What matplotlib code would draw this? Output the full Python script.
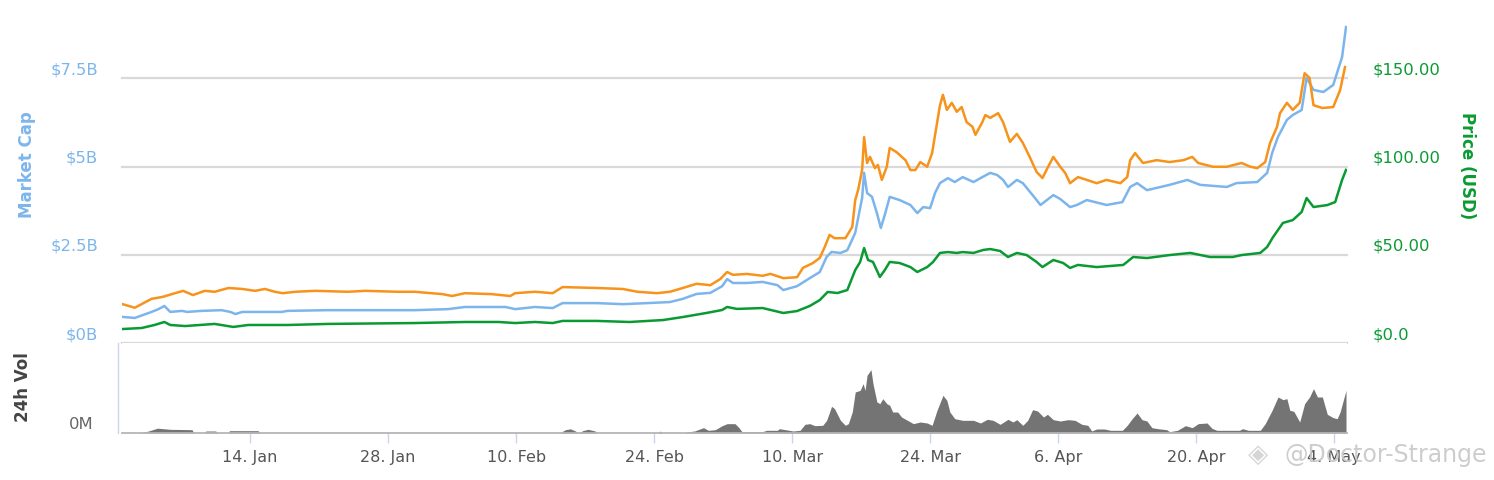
import numpy as np
import pandas as pd
import matplotlib
matplotlib.use("Agg")
import matplotlib.pyplot as plt
from matplotlib.transforms import ScaledTranslation

# ---------------- data ----------------
START = pd.Timestamp("2017-01-01")

green_day = [0, 2, 3.3, 4.3, 4.9, 6.4, 9.4, 11.3, 12.8, 16.8, 20.9, 29.7, 34.8, 38.2, 39.9,
             41.9, 43.7, 44.7, 48.2, 51.5, 54.9, 56.9, 59.3, 60.9, 61.4, 62.4, 65.0, 67.1, 68.5, 69.8,
             70.8, 71.6, 72.6, 73.6, 74.4, 74.9, 75.3, 75.7, 76.2, 76.9, 77.4, 77.9, 78.9, 80.0, 80.7,
             81.7, 82.3, 83.0, 83.8, 84.7, 85.3, 86.4, 87.4, 88.1, 89.1, 89.9, 90.8, 91.8, 92.8, 93.4,
             94.5, 95.5, 96.2, 97.0, 98.9, 101.6, 102.6, 104.0, 106.3, 108.4, 110.4, 112.7, 113.6, 115.5, 116.2,
             116.8, 117.8, 118.8, 119.7, 120.2, 120.9, 122.3, 123.1, 123.8, 124.2]
price_usd = [7.9, 8.5, 10.2, 11.9, 10.2, 9.6, 10.8, 9.1, 10.2, 10.2, 10.8, 11.3, 11.9, 11.9, 11.3,
             11.9, 11.3, 12.5, 12.5, 11.9, 13.0, 14.7, 17.0, 18.7, 20.4, 19.3, 19.8, 17.0, 18.1, 21.0,
             24.3, 28.9, 28.3, 30.0, 41.3, 45.9, 53.8, 47.0, 45.9, 37.4, 41.3, 45.9, 45.3, 43.0, 40.2,
             43.0, 45.9, 51.0, 51.5, 51.0, 51.5, 51.0, 52.7, 53.2, 52.1, 48.7, 51.0, 49.8, 45.9, 43.0,
             47.0, 45.3, 42.5, 44.2, 43.0, 44.2, 48.7, 48.1, 49.8, 51.0, 48.7, 48.7, 49.8, 51.0, 54.4,
             60.0, 68.0, 69.6, 74.2, 82.1, 77.0, 78.1, 79.8, 92.3, 98.0]

blue_day = [0, 1.3, 3.0, 3.7, 4.3, 4.9, 6.1, 6.6, 8.1, 10.1, 11.0, 11.5, 12.2, 14.5, 16.2,
            16.8, 20.9, 29.7, 33.1, 34.8, 38.9, 39.9, 41.9, 43.7, 44.7, 48.2, 50.8, 53.3, 55.6, 56.9,
            58.3, 59.7, 60.9, 61.4, 62.0, 63.4, 65.0, 66.5, 67.1, 68.5, 69.8, 70.8, 71.5, 72.0, 72.9,
            73.6, 74.4, 75.1, 75.3, 75.6, 76.1, 76.6, 77.0, 77.4, 77.9, 78.9, 80.0, 80.7, 81.3, 82.0,
            82.5, 83.0, 83.8, 84.5, 85.3, 86.4, 87.3, 88.1, 88.8, 89.4, 89.9, 90.8, 91.4, 92.4, 93.2,
            94.5, 95.2, 96.2, 96.9, 97.9, 99.9, 101.5, 102.3, 103.0, 104.0, 106.3, 108.1, 109.4, 112.1, 113.1,
            115.2, 116.2, 116.7, 117.3, 118.2, 118.8, 119.7, 120.2, 120.9, 121.9, 122.9, 123.8, 124.2]
market_cap_b = [0.74, 0.71, 0.88, 0.96, 1.05, 0.88, 0.91, 0.88, 0.91, 0.93, 0.88, 0.82, 0.88, 0.88, 0.88,
                0.91, 0.93, 0.93, 0.96, 1.02, 1.02, 0.96, 1.02, 0.99, 1.13, 1.13, 1.10, 1.13, 1.16, 1.25,
                1.39, 1.42, 1.61, 1.81, 1.70, 1.70, 1.73, 1.64, 1.50, 1.61, 1.84, 2.01, 2.44, 2.58, 2.55,
                2.63, 3.12, 4.11, 4.82, 4.25, 4.14, 3.68, 3.26, 3.63, 4.14, 4.05, 3.91, 3.68, 3.85, 3.82,
                4.25, 4.53, 4.67, 4.56, 4.70, 4.56, 4.70, 4.82, 4.76, 4.62, 4.42, 4.62, 4.53, 4.19, 3.91,
                4.19, 4.08, 3.85, 3.91, 4.05, 3.91, 3.99, 4.42, 4.53, 4.33, 4.48, 4.62, 4.48, 4.42, 4.53,
                4.56, 4.82, 5.38, 5.84, 6.32, 6.46, 6.60, 7.51, 7.17, 7.11, 7.31, 8.10, 8.95]

orange_day = [0, 1.3, 3.0, 4.1, 5.4, 6.2, 7.2, 8.4, 9.4, 10.8, 12.2, 13.5, 14.5, 15.5, 16.3,
              17.6, 19.6, 22.9, 24.7, 28.0, 29.7, 32.5, 33.5, 34.8, 37.5, 39.4, 39.9, 41.9, 43.7, 44.7,
              48.2, 50.8, 52.3, 54.3, 55.6, 56.9, 58.3, 59.7, 60.7, 61.4, 62.0, 63.4, 65.0, 65.8, 67.1,
              68.5, 69.1, 70.1, 70.8, 71.3, 71.8, 72.3, 73.4, 74.1, 74.4, 74.7, 75.1, 75.3, 75.6, 75.9,
              76.4, 76.7, 77.1, 77.6, 77.9, 78.6, 79.5, 80.0, 80.5, 81.0, 81.7, 82.2, 82.7, 83.0, 83.3,
              83.7, 84.2, 84.7, 85.2, 85.7, 86.3, 86.6, 87.3, 87.6, 88.1, 88.9, 89.4, 90.1, 90.8, 91.4,
              92.1, 92.8, 93.4, 93.9, 94.5, 95.2, 95.7, 96.2, 97.0, 97.9, 98.9, 99.9, 101.3, 102.0, 102.3,
              102.8, 103.6, 105.0, 106.3, 107.7, 108.6, 109.2, 110.7, 112.1, 113.6, 114.5, 115.2, 116.0, 116.5, 117.2,
              117.5, 118.2, 118.8, 119.5, 120.0, 120.5, 120.9, 121.8, 122.9, 123.6, 124.1]
price_btc = [0.0083, 0.0075, 0.0094, 0.0098, 0.0106, 0.0111, 0.0102, 0.0111, 0.0109, 0.0117, 0.0115, 0.0111, 0.0115, 0.0109, 0.0106,
             0.0109, 0.0111, 0.0109, 0.0111, 0.0109, 0.0109, 0.0104, 0.0100, 0.0106, 0.0104, 0.0100, 0.0106, 0.0109, 0.0106, 0.0119,
             0.0117, 0.0115, 0.0109, 0.0106, 0.0109, 0.0117, 0.0126, 0.0123, 0.0136, 0.0151, 0.0145, 0.0147, 0.0143, 0.0147, 0.0138,
             0.0140, 0.0160, 0.0170, 0.0181, 0.0204, 0.0230, 0.0223, 0.0223, 0.0247, 0.0304, 0.0326, 0.0368, 0.0438, 0.0383, 0.0396,
             0.0372, 0.0379, 0.0347, 0.0375, 0.0415, 0.0406, 0.0389, 0.0368, 0.0368, 0.0385, 0.0375, 0.0404, 0.0468, 0.0506, 0.0528,
             0.0496, 0.0511, 0.0492, 0.0502, 0.0470, 0.0460, 0.0443, 0.0470, 0.0485, 0.0479, 0.0489, 0.0470, 0.0428, 0.0445, 0.0426,
             0.0396, 0.0364, 0.0351, 0.0372, 0.0396, 0.0375, 0.0362, 0.0340, 0.0353, 0.0347, 0.0340, 0.0347, 0.0340, 0.0353, 0.0389,
             0.0404, 0.0383, 0.0389, 0.0385, 0.0389, 0.0396, 0.0383, 0.0375, 0.0375, 0.0383, 0.0375, 0.0372, 0.0385, 0.0426, 0.0460,
             0.0489, 0.0511, 0.0496, 0.0511, 0.0574, 0.0564, 0.0506, 0.0500, 0.0502, 0.0538, 0.0587]

vol_day = [0, 1.8, 2.7, 3.6, 4.9, 7.1, 7.3, 8.4, 8.5, 9.5, 9.7, 10.8, 10.9, 13.8, 14.0,
           44.4, 45.0, 45.5, 46.0, 46.3, 46.8, 47.3, 48.0, 48.2, 54.4, 54.6, 54.8, 57.1, 57.3, 58.1,
           59.0, 59.5, 60.2, 60.9, 61.4, 62.2, 62.6, 62.9, 65.0, 65.4, 66.5, 66.7, 68.1, 68.8, 69.3,
           69.8, 70.3, 71.1, 71.5, 72.0, 72.3, 72.9, 73.4, 73.7, 74.1, 74.4, 74.9, 75.2, 75.4, 75.6,
           76.0, 76.2, 76.6, 76.9, 77.2, 77.6, 77.9, 78.2, 78.7, 79.1, 79.7, 80.3, 81.0, 81.7, 82.2,
           82.7, 83.3, 83.7, 84.0, 84.5, 85.3, 86.4, 87.1, 87.8, 88.4, 89.1, 89.9, 90.4, 90.8, 91.4,
           91.9, 92.4, 92.9, 93.5, 93.9, 94.5, 95.2, 96.0, 96.7, 97.4, 98.0, 98.4, 98.9, 99.7, 100.3,
           101.5, 102.0, 102.5, 103.0, 103.5, 104.0, 104.5, 105.1, 106.0, 106.3, 107.1, 107.9, 108.6, 109.2, 110.1,
           110.6, 111.1, 113.4, 113.7, 114.3, 115.5, 116.0, 116.7, 117.3, 117.8, 118.2, 118.5, 118.9, 119.5, 120.0,
           120.5, 120.9, 121.3, 121.8, 122.3, 122.9, 123.3, 123.6, 124.2]
volume_m = [0, 0, 12, 29, 22, 20, 0, 0, 12, 12, 0, 0, 14, 14, 0,
            0, 20, 25, 12, 0, 15, 22, 12, 0, 0, 12, 0, 0, 6, 12,
            32, 16, 20, 44, 56, 56, 32, 8, 8, 16, 16, 26, 12, 16, 52,
            56, 44, 46, 76, 160, 146, 76, 46, 56, 126, 246, 256, 296, 256, 346,
            380, 296, 186, 176, 206, 176, 166, 126, 126, 96, 76, 56, 66, 60, 46,
            136, 226, 196, 126, 86, 76, 76, 60, 82, 76, 52, 82, 66, 80, 46,
            76, 140, 132, 96, 112, 80, 72, 80, 76, 52, 46, 12, 24, 24, 16,
            16, 46, 86, 120, 80, 72, 32, 26, 20, 8, 16, 44, 32, 56, 60,
            28, 16, 16, 26, 16, 16, 56, 136, 216, 200, 206, 136, 130, 66, 176,
            216, 266, 216, 216, 112, 92, 86, 126, 256]

tick_dates = ["2017-01-14", "2017-01-28", "2017-02-10", "2017-02-24", "2017-03-10",
              "2017-03-24", "2017-04-06", "2017-04-20", "2017-05-04"]
tick_labels = ["14. Jan", "28. Jan", "10. Feb", "24. Feb", "10. Mar",
               "24. Mar", "6. Apr", "20. Apr", "4. May"]
cap_ticks = [0, 2.5, 5, 7.5]
cap_labels = ["$0B", "$2.5B", "$5B", "$7.5B"]
usd_ticks = [0, 50, 100, 150]
usd_labels = ["$0.0", "$50.00", "$100.00", "$150.00"]


def to_dates(days):
    return START + pd.to_timedelta(np.asarray(days, dtype=float), unit="D")


# ---------------- figure ----------------
W, H = 1494, 480
fig = plt.figure(figsize=(W / 100, H / 100), dpi=100)


def box(l, t, r, b):
    return [l / W, 1 - b / H, (r - l) / W, (b - t) / H]


BLUE = "#7cb5ec"
ORANGE = "#f7931a"
GREEN = "#0a9a32"
GRID = "#d9d9d9"

ax = fig.add_axes(box(122, 20, 1347, 343))
axv = fig.add_axes(box(122, 343, 1347, 433), sharex=ax)
ax_r = ax.twinx()
ax_o = ax.twinx()

xmin = START
xmax = START + pd.Timedelta(days=124.3)
ax.set_xlim(xmin, xmax)

ax.set_ylim(0, 323 / 35.3)
ax_r.set_ylim(0, 323 / 1.766)
ax_o.set_ylim(0, 323 / 4700)

for v in cap_ticks:
    ax.axhline(v, color=GRID, lw=1.6, zorder=0, clip_on=False)

ax.plot(to_dates(blue_day), market_cap_b, color=BLUE, lw=1.8, solid_joinstyle="round")
ax_r.plot(to_dates(green_day), price_usd, color=GREEN, lw=1.8, solid_joinstyle="round")
ax_o.plot(to_dates(orange_day), price_btc, color=ORANGE, lw=1.8, solid_joinstyle="round")

for a in (ax, ax_r, ax_o):
    for s in a.spines.values():
        s.set_visible(False)
ax_o.set_axis_off()

up = ScaledTranslation(0, 10 / 100, fig.dpi_scale_trans)

ax.set_yticks(cap_ticks)
ax.set_yticklabels(cap_labels)
ax.tick_params(axis="y", left=False, length=0, pad=17.3, labelsize=11.8, labelcolor=BLUE)
ax.tick_params(axis="x", bottom=False, labelbottom=False)
for lab in ax.get_yticklabels():
    lab.set_transform(lab.get_transform() + up)

ax_r.set_yticks(usd_ticks)
ax_r.set_yticklabels(usd_labels)
ax_r.tick_params(axis="y", right=False, length=0, pad=18.7, labelsize=11.8, labelcolor=GREEN)
for lab in ax_r.get_yticklabels():
    lab.set_transform(lab.get_transform() + up)

# volume panel
axv.fill_between(to_dates(vol_day), volume_m, 0, color="#747474", lw=0)
axv.set_ylim(0, 540)
axv.set_xlim(xmin, xmax)
for k in ("top", "right"):
    axv.spines[k].set_visible(False)
axv.spines["left"].set_color("#ccd6eb")
axv.spines["left"].set_linewidth(1.0)
axv.spines["left"].set_position(("outward", 2.9))
axv.spines["bottom"].set_color("#b5b5b5")
axv.spines["bottom"].set_linewidth(1.3)
axv.set_yticks([0])
axv.set_yticklabels(["0M"])
axv.tick_params(axis="y", left=False, length=0, pad=17.3, labelsize=11.8, labelcolor="#666666")
for lab in axv.get_yticklabels():
    lab.set_transform(lab.get_transform() + up)
axv.set_xticks(pd.to_datetime(tick_dates))
axv.set_xticklabels(tick_labels)
axv.tick_params(axis="x", direction="out", length=7.2, width=1.0, color="#ccd6eb",
                pad=5.0, labelsize=11.5, labelcolor="#555555")

# axis titles
fig.text(27 / W, 1 - 165 / H, "Market Cap", rotation=90, color=BLUE, fontsize=12,
         fontweight="bold", ha="center", va="center")
fig.text(23 / W, 1 - 387 / H, "24h Vol", rotation=90, color="#444444", fontsize=12,
         fontweight="bold", ha="center", va="center")
fig.text(1467 / W, 1 - 166 / H, "Price (USD)", rotation=270, color=GREEN, fontsize=12,
         fontweight="bold", ha="center", va="center")

# watermark
fig.text(1258 / W, 1 - 455 / H, "◈", color="#d2d2d2", fontsize=19, ha="center", va="center",
         alpha=0.9, zorder=10)
fig.text(1284 / W, 1 - 455 / H, "@Doctor-Strange", color="#c8c8c8", fontsize=17,
         ha="left", va="center", alpha=0.9, zorder=10)

fig.savefig("out.png", dpi=100)
